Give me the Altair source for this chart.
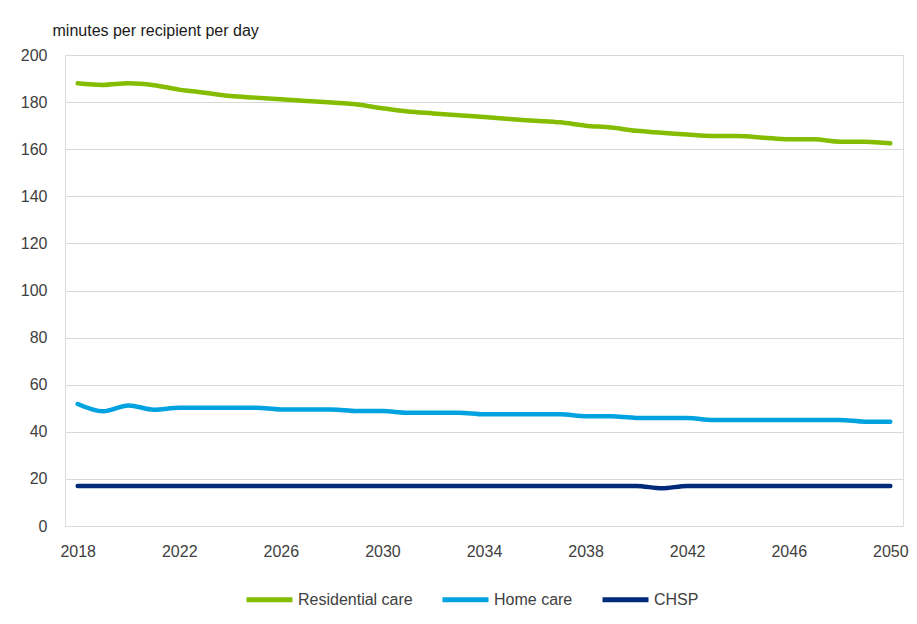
import altair as alt
import pandas as pd

years = list(range(2018, 2051))
residential = [188.0, 187.3, 188.0, 187.2, 185.3, 184.0, 182.6, 181.9, 181.2, 180.5,
               179.8, 179.0, 177.4, 176.0, 175.2, 174.4, 173.7, 172.8, 172.1, 171.4,
               170.0, 169.2, 167.8, 167.0, 166.2, 165.6, 165.6, 164.9, 164.2, 164.2,
               163.2, 163.2, 162.5]
home = [51.8, 48.7, 51.2, 49.4, 50.2, 50.2, 50.2, 50.2, 49.5, 49.5,
        49.5, 48.8, 48.8, 48.1, 48.1, 48.1, 47.4, 47.4, 47.4, 47.4,
        46.6, 46.6, 45.9, 45.9, 45.9, 45.0, 45.0, 45.0, 45.0, 45.0,
        45.0, 44.3, 44.3]
chsp = [17.0] * 23 + [16.0] + [17.0] * 9

series_names = ["Residential care", "Home care", "CHSP"]
series_colors = ["#84BD00", "#00A3E0", "#012A7A"]
x_ticks = [2018, 2022, 2026, 2030, 2034, 2038, 2042, 2046, 2050]
y_ticks = [0, 20, 40, 60, 80, 100, 120, 140, 160, 180, 200]

rows = []
for name, vals in zip(series_names, [residential, home, chsp]):
    for y, v in zip(years, vals):
        rows.append({"year": y, "series": name, "value": v, "order": series_names.index(name)})
df = pd.DataFrame(rows)

FONT = "Liberation Sans"

chart = alt.Chart(df).mark_line(strokeWidth=4.5, interpolate="monotone", strokeCap="round").encode(
    x=alt.X("year:Q",
            scale=alt.Scale(domain=[2017.5, 2050.5], nice=False, zero=False),
            axis=alt.Axis(values=x_ticks, format="d", title=None, grid=False,
                          ticks=False, domain=True, domainColor="#D9D9D9", domainWidth=1,
                          labelFont=FONT, labelFontSize=16, labelColor="#404040",
                          labelPadding=17)),
    y=alt.Y("value:Q",
            scale=alt.Scale(domain=[0, 200], nice=False),
            axis=alt.Axis(values=y_ticks, title="minutes per recipient per day",
                          titleAngle=0, titleAlign="left", titleBaseline="alphabetic",
                          titleX=-13, titleY=-20, titleFont=FONT, titleFontSize=16,
                          titleFontWeight="normal", titleColor="#1a1a1a",
                          grid=True, gridColor="#D9D9D9", gridWidth=1,
                          ticks=False, domain=False,
                          labelFont=FONT, labelFontSize=16, labelColor="#404040",
                          labelPadding=18)),
    color=alt.Color("series:N",
                    scale=alt.Scale(domain=series_names, range=series_colors),
                    legend=alt.Legend(orient="none", direction="horizontal",
                                      legendX=179, legendY=519, title=None,
                                      symbolType="stroke", symbolSize=2116,
                                      symbolStrokeWidth=5, labelFont=FONT,
                                      labelFontSize=16, labelColor="#404040",
                                      labelOffset=3, columnPadding=19)),
    order=alt.Order("order:Q"),
).properties(
    width=838, height=471,
    autosize=alt.AutoSizeParams(type="none"),
    padding={"left": 57, "top": 47, "right": 6, "bottom": 94},
).configure_view(stroke=None).configure(background="white")

chart.save("out.html", embed_options={"renderer": "svg", "actions": False})
